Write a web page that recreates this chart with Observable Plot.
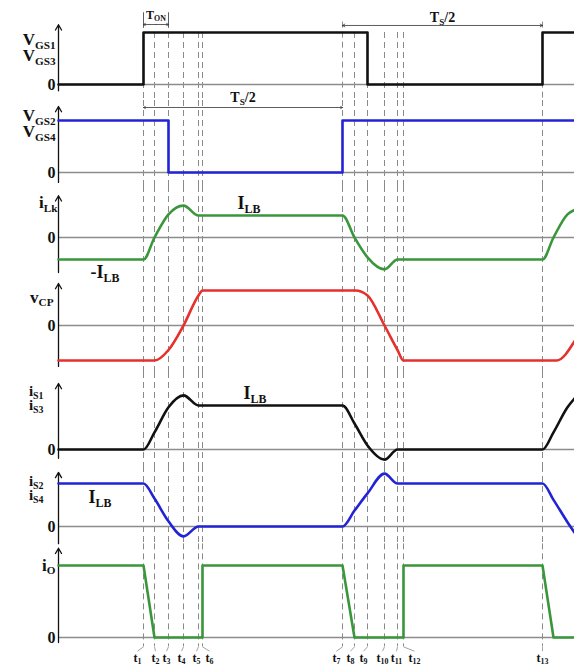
<!DOCTYPE html>
<html><head><meta charset="utf-8">
<script src="https://cdn.jsdelivr.net/npm/d3@7"></script>
<script src="https://cdn.jsdelivr.net/npm/@observablehq/plot@0.6"></script>
<style>
html,body{margin:0;padding:0;background:#fff;}
#chart{width:574px;height:668px;overflow:hidden;position:relative;}
#chart svg{display:block;overflow:visible;}
</style>
</head><body><div id="chart"></div>
<script>
// ---------- data (time in arbitrary units, amplitudes normalised: I_LB = 1) ----------
const tickLabels = ["t_{1}","t_{2}","t_{3}","t_{4}","t_{5}","t_{6}","t_{7}","t_{8}","t_{9}","t_{10}","t_{11}","t_{12}","t_{13}"];
const tickTimes  = [85, 96, 110, 125, 140, 144, 284, 296, 309, 326, 339, 345, 484];
const timeEnd = 516;

const vgs13 = [[0,0],[85,0],[85,1],[309,1],[309,0],[484,0],[484,1],[516,1]];
const vgs24 = [[0,1],[110,1],[110,0],[284,0],[284,1],[516,1]];
const iLk   = [[0,-1],[85,-1],[96,0],[110,1.05],[125,1.45],[140,1],[284,1],[296,0],[309,-0.9],[326,-1.45],[339,-1],[484,-1],[495,0],[509,1.05],[516,1.25]];
const vCP   = [[0,-1],[96,-1],[110,-0.7],[125,0],[140,0.86],[144,1],[297,1],[309,0.86],[326,0],[339,-0.7],[345,-1],[498,-1],[516,-0.45]];
const iS13  = [[0,0],[85,0],[96,0.39],[110,0.96],[125,1.23],[140,1],[284,1],[296,0.59],[309,0.09],[326,-0.23],[339,0],[484,0],[495,0.39],[509,0.96],[516,1.16]];
const iS24  = [[0,1],[85,1],[96,0.65],[110,0.12],[125,-0.23],[140,0],[284,0],[296,0.37],[309,0.77],[326,1.23],[339,1],[484,1],[495,0.62],[509,0.1],[516,-0.14]];
const iO    = [[0,1],[85,1],[96,0],[144,0],[144,1],[284,1],[296,0],[345,0],[345,1],[484,1],[495,0],[516,0]];

const axisLabels = {
  vgs13: ["V_{GS1}","V_{GS3}"], vgs24: ["V_{GS2}","V_{GS4}"], iLk: ["i_{Lk}"], vCP: ["v_{CP}"],
  iS13: ["i_{S1}","i_{S3}"], iS24: ["i_{S2}","i_{S4}"], iO: ["i_{O}"]
};
const levelLabels = {pos: "I_{LB}", neg: "-I_{LB}"};
const spanLabels = {on: "T_{ON}", half: "T_{S}/2"};

// ---------- layout ----------
const FONT = "'Liberation Serif','Times New Roman',serif";
const DASH = {stroke:"#8a8a8a", strokeWidth:1, strokeDasharray:"6,4"};
const ZERO = {stroke:"#8c8c8c", strokeWidth:1.4};
const tickNudge = [-6, 1, -2, -2, -2, 7, -6, -4, -4, -2, -1, 11, 0];
const T = tickTimes;

function yLabel(text, y, dx, size = 17) {
  return Plot.text([text], {x: 0, y, text: d => d, textAnchor: "end", dx, fontSize: size, fontWeight: "bold", fill: "#111"});
}
function inLabel(text, x, y, size = 18) {
  return Plot.text([text], {x, y, text: d => d, textAnchor: "start", fontSize: size, fontWeight: "bold", fill: "#111"});
}
function axisArrow(lo, hi) {
  return Plot.arrow([0], {x1: 0, x2: 0, y1: lo, y2: hi, stroke: "#111", strokeWidth: 1.3, headLength: 7});
}
function wave(data, color, curve) {
  return Plot.line(data, {x: d => d[0], y: d => d[1], stroke: color, strokeWidth: 2.6, curve});
}
function dim(a, b, y, hl) {
  const m = (a + b) / 2;
  return [
    Plot.arrow([0], {x1: m, x2: a, y1: y, y2: y, stroke: "#333", strokeWidth: 0.8, headLength: hl}),
    Plot.arrow([0], {x1: m, x2: b, y1: y, y2: y, stroke: "#333", strokeWidth: 0.8, headLength: hl})
  ];
}
function panel(height, yDomain, yRange, marks) {
  return Plot.plot({
    width: 574, height, marginLeft: 58, marginRight: 0, marginTop: 0, marginBottom: 0,
    x: {domain: [0, timeEnd], axis: null},
    y: {domain: yDomain, range: yRange, axis: null},
    style: {display: "block", overflow: "visible", background: "transparent", fontFamily: FONT},
    marks
  });
}
const fullDash = Plot.ruleX(tickTimes, DASH);

const charts = [
  panel(100, [0, 1], [84, 32], [
    Plot.ruleX(tickTimes, {...DASH, y1: d => (d === T[6] || d === T[12]) ? 1.2 : 1, y2: -0.35}),
    Plot.ruleY([0], ZERO),
    axisArrow(-0.12, 1.15),
    Plot.ruleX([T[0], T[2]], {y1: 1.08, y2: 1.38, stroke: "#333", strokeWidth: 0.8}),
    ...dim(T[0], T[2], 1.154, 4),
    Plot.text([spanLabels.on], {x: (T[0] + T[2]) / 2, y: 1.34, text: d => d, fontSize: 12, fontWeight: "bold", fill: "#111"}),
    ...dim(T[6], T[12], 1.135, 5),
    Plot.text([spanLabels.half], {x: (T[6] + T[12]) / 2, y: 1.29, text: d => d, fontSize: 14, fontWeight: "bold", fill: "#111"}),
    wave(vgs13, "#111", "linear"),
    yLabel(axisLabels.vgs13[0], 0.86, -3, 17), yLabel(axisLabels.vgs13[1], 0.55, -3, 17), yLabel("0", 0, -3, 16)
  ]),
  panel(86, [0, 1], [72, 20], [
    fullDash,
    Plot.ruleY([0], ZERO),
    axisArrow(-0.19, 1.27),
    ...dim(T[0], T[6], 1.25, 4),
    Plot.text([spanLabels.half], {x: (T[0] + T[6]) / 2, y: 1.44, text: d => d, fontSize: 14, fontWeight: "bold", fill: "#111"}),
    wave(vgs24, "#2323d6", "linear"),
    yLabel(axisLabels.vgs24[0], 1.09, -3, 17), yLabel(axisLabels.vgs24[1], 0.78, -3, 17), yLabel("0", 0, -3, 16)
  ]),
  panel(90, [-1, 1], [73, 29], [
    fullDash,
    Plot.ruleY([0], ZERO),
    axisArrow(-1.59, 1.9),
    wave(iLk, "#3a963a", "monotone-x"),
    yLabel(axisLabels.iLk[0], 1.58, -1), yLabel("0", 0, -3, 16),
    inLabel(levelLabels.pos, 179, 1.55), inLabel(levelLabels.neg, 32, -1.59)
  ]),
  panel(96, [-1, 1], [84, 14], [
    fullDash,
    Plot.ruleY([0], ZERO),
    axisArrow(-1.17, 1.2),
    wave(vCP, "#e5302c", "monotone-x"),
    yLabel(axisLabels.vCP[0], 0.8, -5), yLabel("0", 0, -3, 16)
  ]),
  panel(94, [0, 1], [77, 33], [
    fullDash,
    Plot.ruleY([0], ZERO),
    axisArrow(-0.2, 1.5),
    wave(iS13, "#111", "monotone-x"),
    yLabel(axisLabels.iS13[0], 1.33, -15, 15), yLabel(axisLabels.iS13[1], 1.0, -15, 15), yLabel("0", 0, -3, 16),
    inLabel(levelLabels.pos, 185, 1.27)
  ]),
  panel(79, [0, 1], [60, 17], [
    fullDash,
    Plot.ruleY([0], ZERO),
    axisArrow(-0.4, 1.26),
    wave(iS24, "#2323d6", "monotone-x"),
    yLabel(axisLabels.iS24[0], 1.06, -15, 15), yLabel(axisLabels.iS24[1], 0.73, -15, 15), yLabel("0", 0, -3, 16),
    inLabel(levelLabels.pos, 30, 0.67)
  ]),
  panel(123, [0, 1], [92, 20], [
    Plot.ruleX(tickTimes, {...DASH, y1: 1.3, y2: -0.13}),
    Plot.link(tickTimes, {x1: d => d, y1: -0.13, x2: (d, i) => d + tickNudge[i], y2: -0.19, stroke: "#8a8a8a", strokeWidth: 0.8}),
    Plot.text(tickTimes, {x: (d, i) => d + tickNudge[i], y: -0.285, text: (d, i) => tickLabels[i], fontSize: 12, fontWeight: "bold", fill: "#111"}),
    Plot.ruleY([0], ZERO),
    axisArrow(-0.07, 1.24),
    wave(iO, "#3a963a", "linear"),
    yLabel(axisLabels.iO[0], 1.0, -3), yLabel("0", 0, -3, 16)
  ])
];

const root = document.getElementById("chart");
for (const c of charts) root.appendChild(c);

// turn "X_{sub}" notation into real subscripts
d3.select(root).selectAll("text").each(function() {
  const s = this.textContent;
  if (!s.includes("_{")) return;
  const fs = parseFloat(getComputedStyle(this).fontSize) || 16;
  const shift = (fs * 0.2).toFixed(1);
  const parts = s.split(/(_\{[^}]*\})/).filter(p => p);
  this.textContent = "";
  let down = false;
  for (const p of parts) {
    const ts = document.createElementNS("http://www.w3.org/2000/svg", "tspan");
    if (p.startsWith("_{")) {
      ts.textContent = p.slice(2, -1);
      ts.setAttribute("font-size", (fs * 0.66).toFixed(1));
      ts.setAttribute("dy", shift);
      down = true;
    } else {
      ts.textContent = p;
      if (down) { ts.setAttribute("dy", "-" + shift); down = false; }
    }
    this.appendChild(ts);
  }
});
</script>
</body></html>
